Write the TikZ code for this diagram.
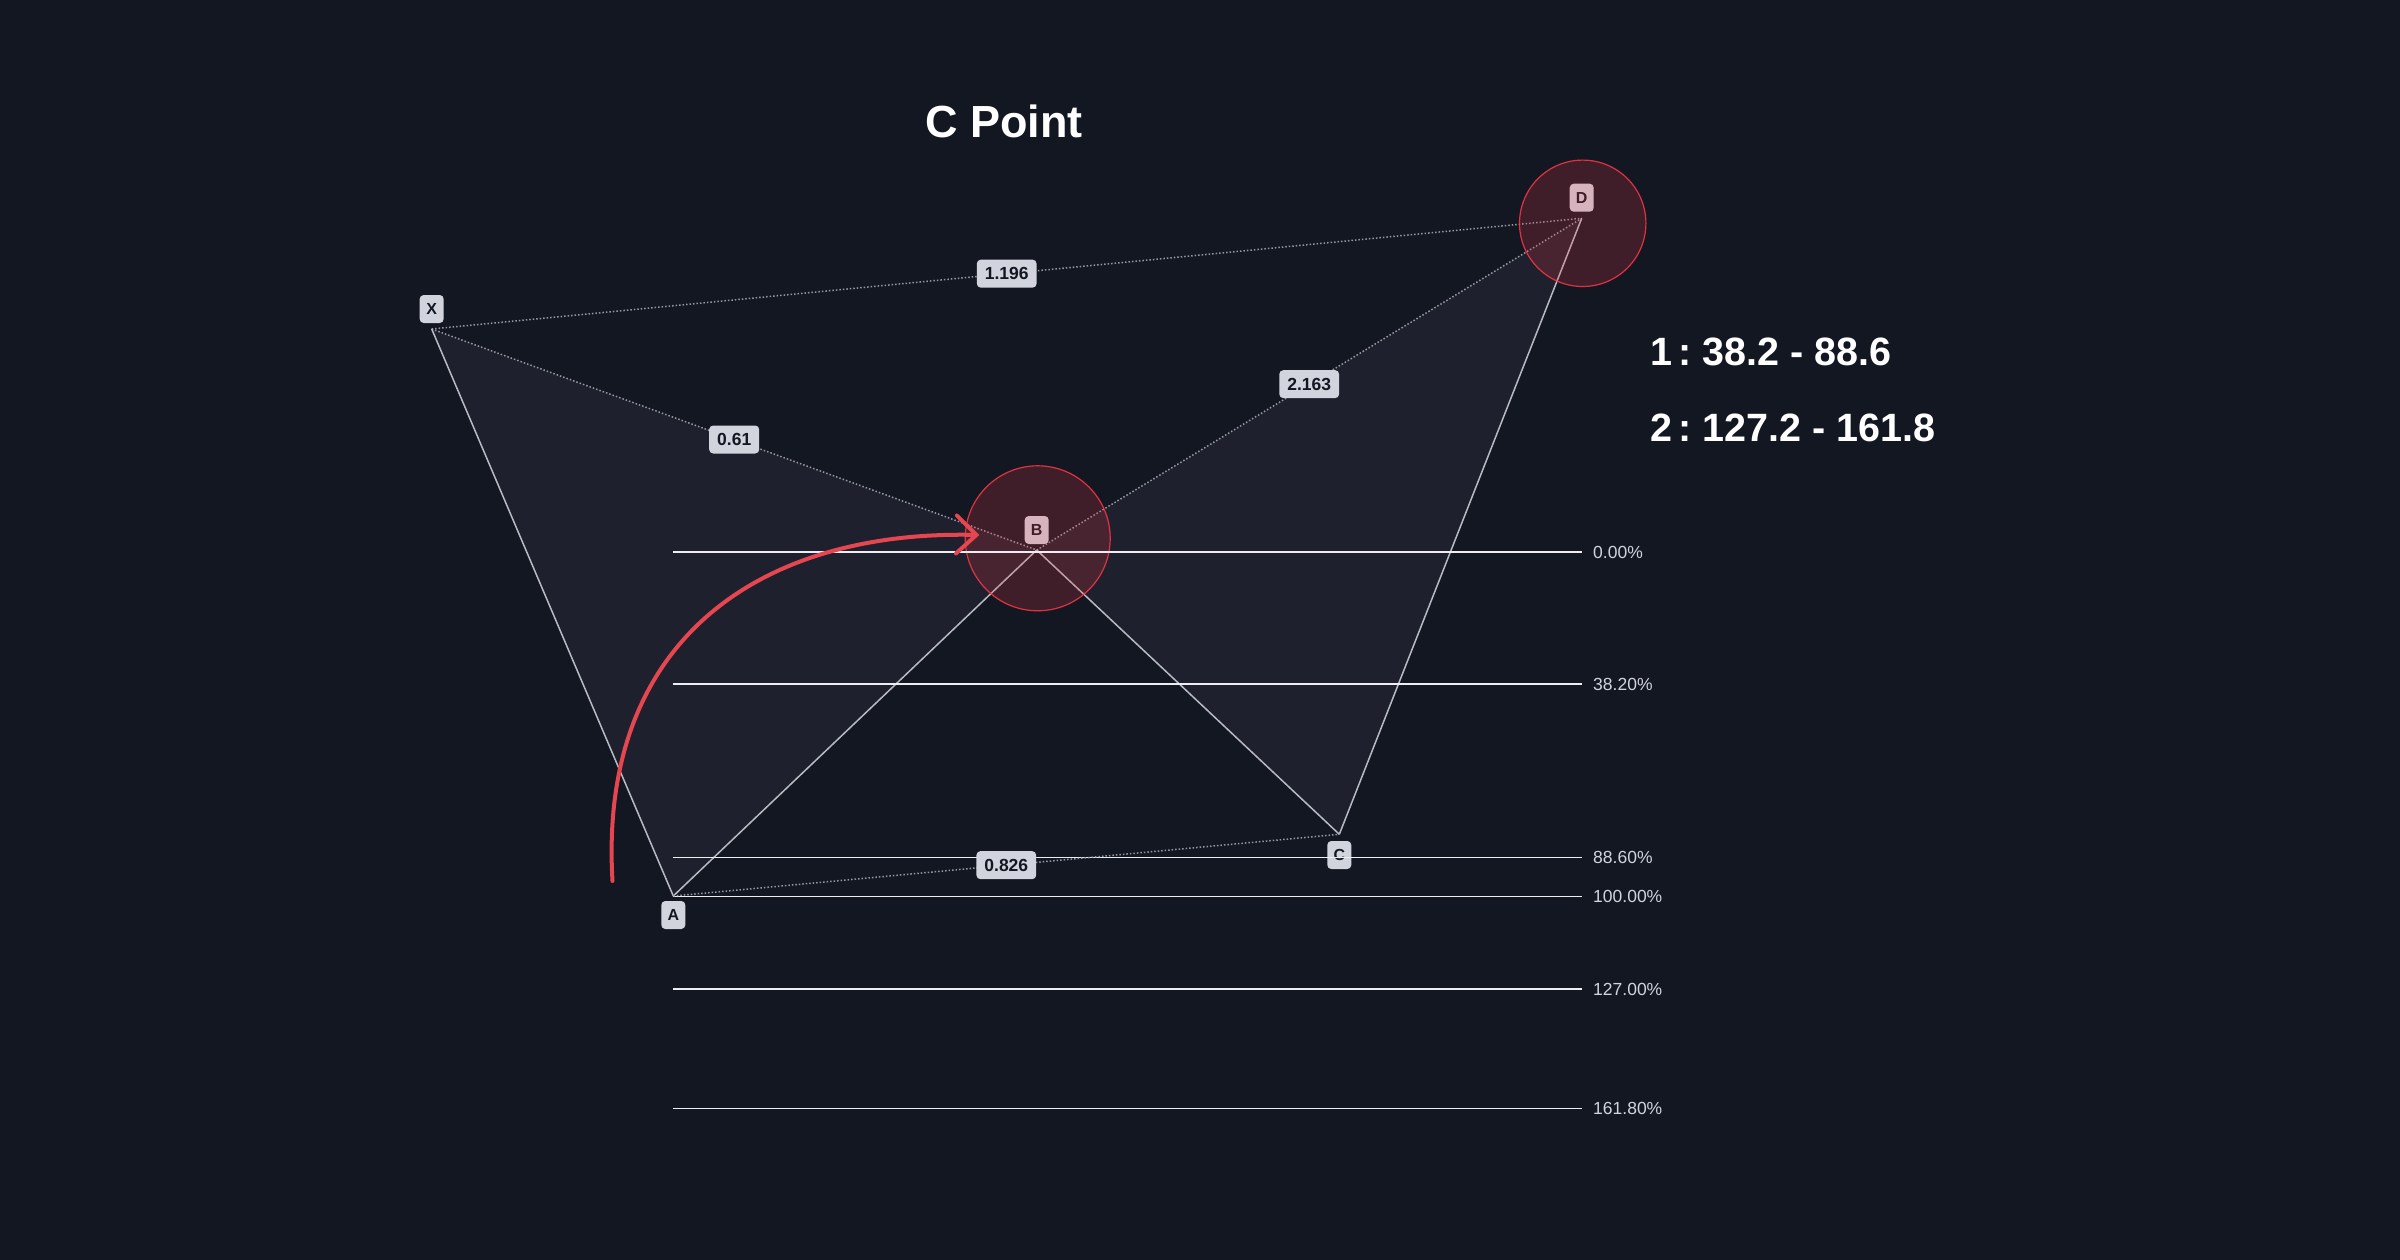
\documentclass[tikz,border=0pt]{standalone}
\usepackage{fontspec}
\setmainfont{Liberation Sans}
\usetikzlibrary{arrows.meta}
\definecolor{bgc}{HTML}{131722}
\definecolor{fillc}{HTML}{1E202D}
\definecolor{labc}{HTML}{D1D4DC}
\definecolor{solidc}{HTML}{B8BBC4}
\definecolor{dotc}{HTML}{9598A1}
\definecolor{fibc}{HTML}{EEEEF2}
\definecolor{redc}{HTML}{F23645}
\definecolor{arrc}{HTML}{E5464F}
\tikzset{
  ptlabel/.style={fill=labc, text=bgc, rounded corners=4pt, minimum width=24pt, minimum height=28pt, inner sep=0pt, font=\fontsize{16}{18}\selectfont\bfseries},
  linelabel/.style={fill=labc, text=bgc, rounded corners=4pt, minimum height=28pt, inner xsep=8pt, inner ysep=0pt, font=\fontsize{17.5}{19}\selectfont\bfseries},
  solidline/.style={draw=solidc, line width=1.5pt},
  dotline/.style={draw=dotc, line width=1.5pt, dash pattern=on 1.5pt off 2pt},
  fibline/.style={draw=fibc, line width=1.6pt},
  fibtext/.style={text=labc, anchor=base west, inner sep=0pt, font=\fontsize{17.5}{20}\selectfont},
  zone/.style={fill=redc, fill opacity=0.2, draw=redc, draw opacity=0.9, line width=1.2pt},
  bigtext/.style={text=white, inner sep=0pt, font=\fontsize{39.5}{44}\selectfont\bfseries, anchor=base west}
}
\begin{document}
\begin{tikzpicture}[x=1pt,y=-1pt]
\fill[bgc] (0,0) rectangle (2400,1260);
\useasboundingbox (0,0) rectangle (2400,1260);

% points
\coordinate (X) at (431.7,329);
\coordinate (A) at (673.3,896);
\coordinate (B) at (1036.7,550);
\coordinate (C) at (1339.3,834.3);
\coordinate (D) at (1581.7,218.3);

% filled triangles
\fill[fillc] (X) -- (A) -- (B) -- cycle;
\fill[fillc] (B) -- (C) -- (D) -- cycle;

% dotted ratio lines
\draw[dotline] (X) -- (D) node[linelabel, pos=0.5] (l1196) {1.196};
\draw[dotline] (X) -- (B) node[linelabel, pos=0.5] (l061) {0.61};
\draw[dotline] (B) -- (D) node[linelabel, pos=0.5] (l2163) {2.163};

% solid legs
\draw[solidline] (X) -- (A);
\draw[solidline] (A) -- (B);
\draw[solidline] (B) -- (C);
\draw[solidline] (C) -- (D);

% point labels
\node[ptlabel] (lX) at (431.7,309) {X};
\node[ptlabel] (lA) at (673.3,915) {A};
\node[ptlabel] (lB) at (1036.7,530) {B};
\node[ptlabel] (lC) at (1339.3,855) {C};
\node[ptlabel] (lD) at (1581.7,197.7) {D};

% zones
\node[zone, circle, minimum size=145pt, inner sep=0pt] (zB) at (1037.7,538.3) {};
\node[zone, circle, minimum size=126.4pt, inner sep=0pt] (zD) at (1582.7,223.3) {};

% fib levels
\foreach \yy/\tt/\nm in {552/0.00\%/f0, 684/38.20\%/f1, 857.5/88.60\%/f2, 896.5/100.00\%/f3, 989/127.00\%/f4, 1108.5/161.80\%/f5}{
  \coordinate (\nm L) at (673.3,\yy);
  \coordinate (\nm R) at (1582,\yy);
  \draw[fibline] (\nm L) -- (\nm R);
  \node[fibtext] (\nm t) at (1593,\yy+6.2) {\tt};
}

% A-C dotted line and label
\draw[dotline] (A) -- (C) node[linelabel, pos=0.5] (l0826) {0.826};

% red arrow
\coordinate (arrS) at (612.5,881);
\coordinate (arrE) at (979.3,535);
\draw[draw=arrc, line width=4pt, line cap=round, -{Straight Barb[length=20pt, width=38pt, line cap=round]}]
  (arrS) .. controls (598,640) and (760,530) .. (arrE);

% texts
\node[text=white, inner sep=0pt, font=\fontsize{45}{52}\selectfont\bfseries, anchor=base] (title) at (1004,138) {C Point};
\node[bigtext] (r1) at (1650,365) {1\,:\ 38.2 - 88.6};
\node[bigtext] (r2) at (1650,441.7) {2\,:\ 127.2 - 161.8};
\end{tikzpicture}
\end{document}
